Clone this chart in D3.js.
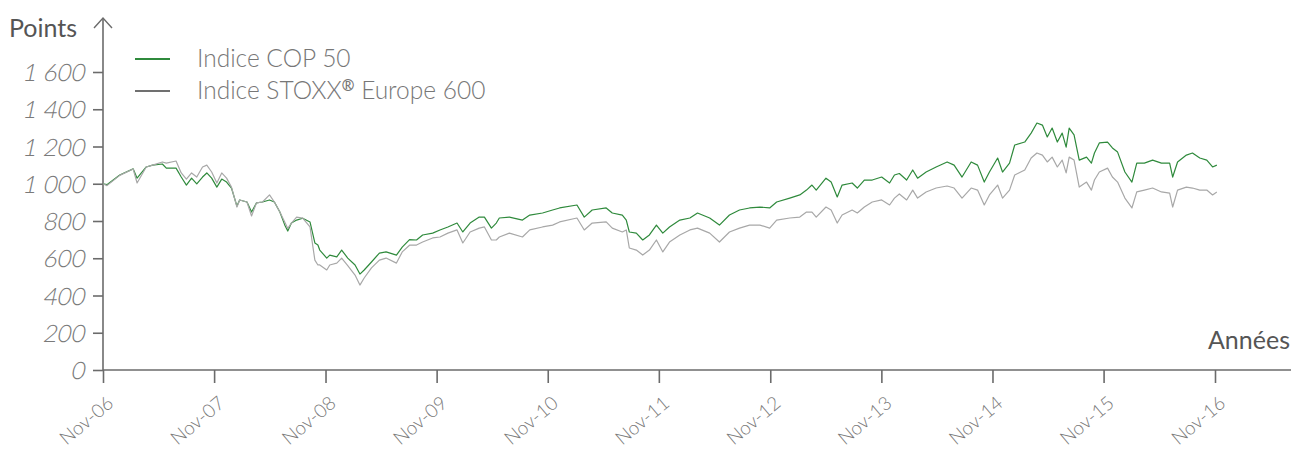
<!DOCTYPE html>
<html>
<head>
<meta charset="utf-8">
<script src="https://cdn.jsdelivr.net/npm/d3@7"></script>
<style>
  html, body { margin: 0; padding: 0; background: #fff; }
  svg { display: block; font-family: Lato, "Open Sans", sans-serif; }
  .light { font-family: "Lato Light", Lato, sans-serif; font-weight: 300; }
</style>
</head>
<body>
<svg id="chart" width="1291" height="453"></svg>
<script>
/* ---------------------------------------------------
   Data
--------------------------------------------------- */

const dates = [
  "2006-11-01","2006-11-14","2006-12-26","2007-02-08","2007-02-21","2007-03-23","2007-04-13","2007-05-15",
  "2007-05-28","2007-06-29","2007-07-16","2007-08-02","2007-08-19","2007-09-05","2007-09-24","2007-10-08",
  "2007-10-24","2007-11-10","2007-11-26","2007-12-12","2007-12-28","2008-01-15","2008-01-24","2008-02-17",
  "2008-03-03","2008-03-19","2008-04-08","2008-05-01","2008-05-17","2008-06-04","2008-06-20","2008-06-30",
  "2008-07-12","2008-07-29","2008-08-18","2008-09-11","2008-09-27","2008-10-07","2008-10-13","2008-11-05",
  "2008-11-15","2008-12-08","2008-12-24","2009-01-13","2009-02-06","2009-02-22","2009-03-08","2009-04-01",
  "2009-04-27","2009-05-19","2009-06-22","2009-07-11","2009-08-04","2009-08-27","2009-09-16","2009-10-19",
  "2009-11-12","2009-12-08","2010-01-07","2010-01-26","2010-02-19","2010-03-21","2010-04-07","2010-04-30",
  "2010-05-16","2010-05-26","2010-06-28","2010-08-10","2010-09-03","2010-10-15","2010-11-17","2010-12-10",
  "2011-02-05","2011-03-01","2011-03-27","2011-05-12","2011-06-01","2011-07-04","2011-07-17","2011-07-27",
  "2011-08-19","2011-09-09","2011-10-01","2011-10-24","2011-11-14","2011-12-06","2012-01-09","2012-02-11",
  "2012-03-07","2012-04-16","2012-05-18","2012-06-20","2012-07-23","2012-08-25","2012-09-28","2012-10-30",
  "2012-11-22","2013-01-04","2013-02-06","2013-02-28","2013-03-18","2013-04-01","2013-05-03","2013-05-20",
  "2013-06-09","2013-06-25","2013-07-28","2013-08-14","2013-09-06","2013-10-02","2013-11-02","2013-11-28",
  "2013-12-14","2013-12-30","2014-01-23","2014-02-12","2014-02-28","2014-03-28","2014-04-30","2014-06-05",
  "2014-06-28","2014-07-24","2014-08-23","2014-09-13","2014-10-05","2014-10-22","2014-11-18","2014-12-04",
  "2014-12-27","2015-01-13","2015-02-15","2015-03-08","2015-03-27","2015-04-14","2015-04-30","2015-05-16",
  "2015-06-02","2015-06-18","2015-07-01","2015-07-11","2015-07-27","2015-08-13","2015-09-06","2015-09-22",
  "2015-10-02","2015-10-18","2015-11-14","2015-11-30","2015-12-17","2016-01-10","2016-02-02","2016-02-18",
  "2016-03-14","2016-04-10","2016-05-09","2016-06-05","2016-06-15","2016-07-01","2016-07-30","2016-08-19",
  "2016-09-12","2016-10-05","2016-10-24","2016-11-07"
];

const cop50 = [
  1000, 995, 1047, 1080, 1030, 1090, 1100, 1106,
  1084, 1084, 1036, 993, 1030, 999, 1036, 1058,
  1030, 982, 1025, 1009, 977, 880, 913, 902,
  848, 897, 902, 913, 902, 848, 779, 746,
  789, 805, 815, 795, 682, 671, 644, 601,
  617, 607, 644, 601, 564, 515, 537, 580,
  628, 634, 617, 660, 700, 698, 725, 735,
  752, 768, 789, 741, 789, 821, 821, 762,
  789, 816, 821, 805, 832, 843, 859, 870,
  886, 821, 859, 870, 843, 832, 805, 741,
  735, 698, 725, 778, 735, 768, 805, 816,
  843, 816, 778, 832, 859, 870, 875, 870,
  902, 923, 940, 966, 993, 966, 1030, 1009,
  929, 993, 1004, 977, 1020, 1020, 1036, 1004,
  1047, 1055, 1020, 1074, 1030, 1063, 1090, 1117,
  1100, 1036, 1117, 1100, 1009, 1063, 1138, 1063,
  1111, 1208, 1224, 1272, 1326, 1315, 1251, 1299,
  1224, 1272, 1197, 1299, 1262, 1127, 1143, 1111,
  1165, 1219, 1224, 1192, 1170, 1063, 1009, 1111,
  1111, 1127, 1111, 1111, 1036, 1117, 1154, 1165,
  1138, 1127, 1090, 1100
];

const stoxx600 = [
  1000, 990, 1045, 1079, 1004, 1090, 1100, 1117,
  1111, 1122, 1058, 1025, 1058, 1036, 1090, 1100,
  1063, 1004, 1058, 1030, 982, 875, 913, 902,
  827, 897, 902, 940, 902, 848, 795, 760,
  789, 821, 815, 768, 590, 564, 564, 537,
  564, 574, 601, 560, 510, 456, 494, 548,
  590, 601, 574, 634, 670, 671, 687, 709,
  714, 735, 752, 682, 741, 762, 768, 698,
  698, 714, 735, 714, 752, 768, 778, 795,
  816, 752, 789, 795, 762, 741, 752, 655,
  644, 617, 644, 698, 634, 687, 725, 752,
  762, 735, 687, 741, 762, 778, 778, 762,
  805, 816, 821, 848, 848, 821, 875, 859,
  789, 832, 859, 843, 875, 902, 913, 886,
  923, 945, 913, 966, 923, 956, 977, 988,
  977, 923, 977, 966, 886, 940, 993, 923,
  966, 1047, 1074, 1138, 1165, 1154, 1117, 1143,
  1090, 1127, 1058, 1143, 1127, 982, 1009, 966,
  1020, 1063, 1084, 1036, 1009, 923, 870, 956,
  966, 977, 956, 950, 875, 966, 982, 977,
  966, 966, 940, 956
];

const tickDates = ["2006-11-01","2007-11-01","2008-11-01","2009-11-01","2010-11-01","2011-11-01",
                   "2012-11-01","2013-11-01","2014-11-01","2015-11-01","2016-11-01"];
const tickLabels = ["Nov-06","Nov-07","Nov-08","Nov-09","Nov-10","Nov-11",
                    "Nov-12","Nov-13","Nov-14","Nov-15","Nov-16"];
const yTicks = [0, 200, 400, 600, 800, 1000, 1200, 1400, 1600];

const seriesNames = ["Indice COP 50", "Indice STOXX"];

/* ---------------------------------------------------
   Setup
--------------------------------------------------- */

const svg = d3.select("#chart");
const parse = d3.timeParse("%Y-%m-%d");
const axisColour = "#6b6b6b";
const green = "#2f8a3c";
const grey = "#a8a8a8";

const x = d3.scaleTime()
  .domain([parse(tickDates[0]), parse(tickDates[tickDates.length - 1])])
  .range([103, 1215]);

const y = d3.scaleLinear()
  .domain([0, 1600])
  .range([370, 72]);

const fr = d3.formatLocale({decimal: ",", thousands: " ", grouping: [3], currency: ["", " €"]});

/* ---------------------------------------------------
   Axes
--------------------------------------------------- */

const yAxis = svg.append("g")
  .attr("transform", "translate(103,0)")
  .call(d3.axisLeft(y).tickValues(yTicks).tickSize(10).tickPadding(10).tickFormat(fr.format(",d")));

yAxis.select(".domain").remove();
yAxis.selectAll(".tick line").attr("stroke", axisColour).attr("stroke-width", 1.6);
// no light italic face installed, so slant the light face by hand
yAxis.selectAll(".tick text")
  .attr("class", "light")
  .attr("fill", "#7a7a7a")
  .style("font-size", "24px")
  .attr("dy", "0.36em")
  .attr("transform", "translate(3,0) skewX(-12)");

const xAxis = svg.append("g")
  .attr("transform", "translate(0,370)")
  .call(d3.axisBottom(x).tickValues(tickDates.map(parse)).tickSize(13).tickFormat((d, i) => tickLabels[i]));

xAxis.select(".domain").remove();
xAxis.selectAll(".tick line").attr("stroke", axisColour).attr("stroke-width", 1.6);
xAxis.selectAll(".tick text")
  .attr("class", "light")
  .attr("fill", "#7a7a7a")
  .style("font-size", "19px")
  .attr("text-anchor", "end")
  .attr("dy", 0)
  .attr("transform", "translate(1,23) rotate(-40)");

// axis lines with arrow on top
svg.append("line")
  .attr("x1", 103).attr("x2", 103).attr("y1", 18).attr("y2", 370)
  .attr("stroke", axisColour).attr("stroke-width", 1.6);
svg.append("line")
  .attr("x1", 103).attr("x2", 1291).attr("y1", 370).attr("y2", 370)
  .attr("stroke", axisColour).attr("stroke-width", 1.6);
svg.append("path")
  .attr("d", "M94,28 L103,18 L112,28")
  .attr("fill", "none").attr("stroke", axisColour).attr("stroke-width", 1.4);

svg.append("text")
  .attr("x", 9).attr("y", 37)
  .attr("fill", "#555")
  .style("font-size", "25px")
  .text("Points");

svg.append("text")
  .attr("x", 1290).attr("y", 349)
  .attr("text-anchor", "end")
  .attr("fill", "#555")
  .style("font-size", "25px")
  .text("Années");

/* ---------------------------------------------------
   Lines
--------------------------------------------------- */

const line = values => d3.line()
  .x((d, i) => x(parse(dates[i])))
  .y(d => y(d))(values);

svg.append("path")
  .attr("d", line(cop50))
  .attr("fill", "none")
  .attr("stroke", green)
  .attr("stroke-width", 1.2)
  .attr("stroke-linejoin", "round");

svg.append("path")
  .attr("d", line(stoxx600))
  .attr("fill", "none")
  .attr("stroke", grey)
  .attr("stroke-width", 1.2)
  .attr("stroke-linejoin", "round");

/* ---------------------------------------------------
   Legend
--------------------------------------------------- */

const legend = svg.append("g").selectAll("g")
  .data(seriesNames)
  .join("g")
  .attr("transform", (d, i) => `translate(135,${59 + i * 32})`);

legend.append("line")
  .attr("x1", 0).attr("x2", 35)
  .attr("stroke", (d, i) => i === 0 ? green : "#707070")
  .attr("stroke-width", 2);

const legendText = legend.append("text")
  .attr("class", "light")
  .attr("x", 62).attr("y", 8)
  .attr("fill", "#777")
  .style("font-size", "24.5px")
  .text(d => d);

legendText.filter((d, i) => i === 1).append("tspan")
  .style("font-size", "15px")
  .style("font-weight", 700)
  .attr("dy", "-0.55em")
  .text("®");

legendText.filter((d, i) => i === 1).append("tspan")
  .attr("dy", "0.34em")
  .text(" Europe 600");
</script>
</body>
</html>
